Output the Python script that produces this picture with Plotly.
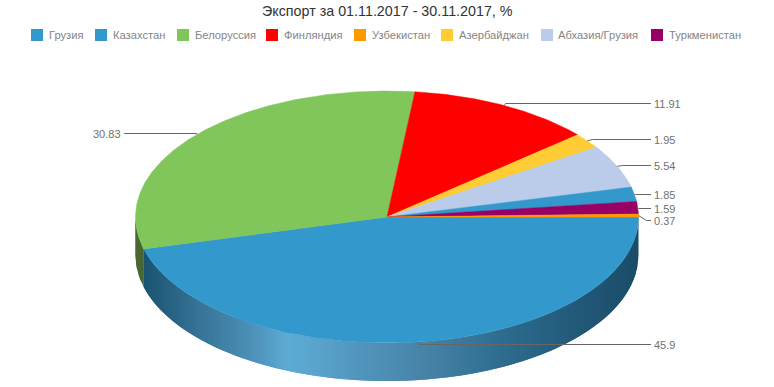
import numpy as np
import plotly.graph_objects as go

title = "Экспорт за 01.11.2017 - 30.11.2017, %"
categories = ["Грузия", "Казахстан", "Белоруссия", "Финляндия", "Узбекистан",
              "Азербайджан", "Абхазия/Грузия", "Туркменистан"]
values = [45.9, 1.85, 30.83, 11.91, 0.37, 1.95, 5.54, 1.59]
colors = ["#3398cc", "#3398cc", "#80c65a", "#ff0000", "#ff9900",
          "#ffcc33", "#bbcceb", "#990066"]
pie_order = ["Грузия", "Белоруссия", "Финляндия", "Азербайджан",
             "Абхазия/Грузия", "Казахстан", "Туркменистан", "Узбекистан"]

# layout constants (pixels)
W, H = 774, 387
CX, CY, RX, RY, DEPTH = 387.0, 217.0, 251.5, 126.0, 38.0
legend_x = [37, 101, 183, 272, 360, 447, 547, 657]
legend_text_x = [49, 113, 195, 284, 372, 459, 558, 669]
label_y = {"Грузия": 344.5, "Белоруссия": 133.5, "Финляндия": 103.5, "Азербайджан": 139.5,
           "Абхазия/Грузия": 165.5, "Казахстан": 194.5, "Туркменистан": 208.5, "Узбекистан": 220.5}
elbow_dx = {"Грузия": 0, "Белоруссия": 0, "Финляндия": 1, "Азербайджан": 5,
            "Абхазия/Грузия": 5, "Казахстан": 1, "Туркменистан": 1, "Узбекистан": 8}

val = dict(zip(categories, values))
col = dict(zip(categories, colors))
total = sum(values)


def pt(deg, dy=0.0):
    r = np.radians(deg)
    return CX + RX * np.cos(r), CY + RY * np.sin(r) + dy


# slice angles
start = {}
end = {}
acc = 0.0
for name in pie_order:
    start[name] = acc / total * 360
    acc += val[name]
    end[name] = acc / total * 360

fig = go.Figure()


def mix(stops, x):
    xs = [s[0] for s in stops]
    return "rgb(%d,%d,%d)" % tuple(np.interp(x, xs, [s[1][i] for s in stops]) for i in range(3))


blue_stops = [(146, (28, 85, 115)), (207, (58, 120, 155)), (260, (80, 150, 190)),
              (287, (93, 172, 214)), (330, (88, 160, 200)), (357, (82, 150, 190)),
              (423, (72, 132, 168)), (507, (45, 108, 142)), (573, (36, 90, 122)),
              (638, (26, 77, 105))]
green_stops = [(136, (74, 107, 53)), (146, (70, 100, 50))]


def wall(a0, a1, stops, n):
    """Side wall of a slice between two angles, in vertical strips of equal width.
    Each strip reaches under the next one, so no seams show."""
    x0, x1 = pt(a0)[0], pt(a1)[0]
    xs = np.linspace(x0, x1, n + 1)
    angs = np.degrees(np.arccos(np.clip((xs - CX) / RX, -1, 1)))
    for i in range(n):
        arc = np.linspace(angs[i], angs[min(i + 2, n)], 8)
        tx, ty = pt(arc)
        bx, by = pt(arc[::-1], DEPTH)
        c = mix(stops, (xs[i] + xs[i + 1]) / 2)
        fig.add_trace(go.Scatter(x=np.r_[tx, bx], y=np.r_[ty, by], fill="toself", mode="lines",
                                 line=dict(color=c, width=0), fillcolor=c,
                                 hoverinfo="skip", showlegend=False))


wall(end["Грузия"], 180, green_stops, 4)
wall(0, end["Грузия"], blue_stops, 200)

# top faces
for name in pie_order:
    arc = np.linspace(start[name], end[name], max(4, int(end[name] - start[name]) * 2))
    ax, ay = pt(arc)
    fig.add_trace(go.Scatter(x=np.r_[CX, ax, CX], y=np.r_[CY, ay, CY], fill="toself", mode="lines",
                             line=dict(color=col[name], width=0.5), fillcolor=col[name],
                             name=name, text=f"{name}: {val[name]}", hoverinfo="text",
                             showlegend=False))

# connectors and labels
annotations = []
for name in pie_order:
    mid = (start[name] + end[name]) / 2
    px, py = pt(mid)
    ly = label_y[name]
    if px >= CX:
        xs, ys = [px, px + elbow_dx[name], 651], [py, ly, ly]
        ax_, anchor = 654, "left"
    else:
        xs, ys = [px, px - elbow_dx[name], 124], [py, ly, ly]
        ax_, anchor = 121, "right"
    fig.add_trace(go.Scatter(x=xs, y=ys, mode="lines", line=dict(color="#666666", width=1),
                             hoverinfo="skip", showlegend=False))
    annotations.append(dict(x=ax_, y=ly, text=str(val[name]), xanchor=anchor, yanchor="middle",
                            showarrow=False, xref="x", yref="y", borderpad=0, borderwidth=0,
                            font=dict(family="Liberation Sans", size=11, color="#707070")))

# legend
fig.add_trace(go.Scatter(x=legend_x, y=[35] * len(categories), mode="markers",
                         marker=dict(symbol="square", size=12, color=colors, line=dict(width=0)),
                         text=categories, hoverinfo="text", showlegend=False))
for name, tx in zip(categories, legend_text_x):
    annotations.append(dict(x=tx, y=34.5, text=name, xanchor="left", yanchor="middle", showarrow=False,
                            xref="x", yref="y", borderpad=0, borderwidth=0,
                            font=dict(family="Liberation Sans", size=11.2, color="#858585")))

annotations.append(dict(x=387, y=11, text=title, xanchor="center", yanchor="middle", showarrow=False,
                        xref="x", yref="y", borderpad=0, borderwidth=0,
                        font=dict(family="Liberation Sans", size=14.3, color="#333333")))

fig.update_layout(
    width=W, height=H, margin=dict(l=0, r=0, t=0, b=0),
    paper_bgcolor="white", plot_bgcolor="white", showlegend=False,
    xaxis=dict(range=[0, W], visible=False, fixedrange=True),
    yaxis=dict(range=[H, 0], visible=False, fixedrange=True),
    annotations=annotations,
)
fig.write_html("out.html", config={"displayModeBar": False},
               post_script="document.body.style.margin='0';document.body.style.overflow='hidden';")
